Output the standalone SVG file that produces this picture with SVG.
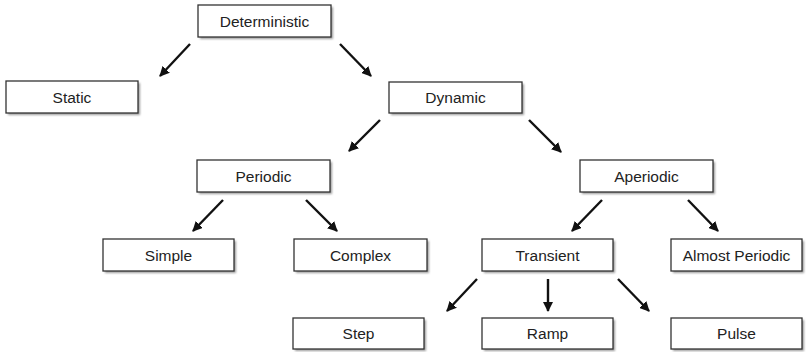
<svg xmlns="http://www.w3.org/2000/svg" width="810" height="352" viewBox="0 0 810 352">
  <defs>
    <marker id="head" viewBox="0 0 10 10" refX="9" refY="5" markerWidth="4.2" markerHeight="4.2" orient="auto" markerUnits="strokeWidth">
      <path d="M0,0 L10,5 L0,10 Z" fill="#111"/>
    </marker>
    <filter id="soft" x="-10%" y="-10%" width="130%" height="140%">
      <feGaussianBlur stdDeviation="0.8"/>
    </filter>
  </defs>
  <style>
    .shadow { fill: #9a9a9a; filter: url(#soft); }
    .box { fill: #ffffff; stroke: #333; stroke-width: 1.3; }
    .label { font-family: "Liberation Sans", Arial, sans-serif; font-size: 15.5px; fill: #222; text-anchor: middle; dominant-baseline: central; }
    .edge { stroke: #111; stroke-width: 2.4; fill: none; marker-end: url(#head); }
  </style>
  <rect width="810" height="352" fill="#ffffff"/>

  <g id="connectors">
    <line class="edge" x1="190" y1="44" x2="160" y2="76"/>
    <line class="edge" x1="340" y1="44" x2="371" y2="76"/>
    <line class="edge" x1="380" y1="120" x2="349" y2="151"/>
    <line class="edge" x1="529" y1="120" x2="561" y2="152"/>
    <line class="edge" x1="223" y1="200" x2="193" y2="231"/>
    <line class="edge" x1="306" y1="200" x2="337" y2="231"/>
    <line class="edge" x1="602" y1="200" x2="572" y2="231"/>
    <line class="edge" x1="688" y1="200" x2="718" y2="231"/>
    <line class="edge" x1="477" y1="279" x2="447" y2="311"/>
    <line class="edge" x1="548" y1="279" x2="548" y2="311"/>
    <line class="edge" x1="618" y1="279" x2="649" y2="311"/>
  </g>

  <g id="deterministic">
    <rect class="shadow" x="200" y="7" width="133" height="32"/>
    <rect class="box" x="198" y="5" width="133" height="32"/>
    <text class="label" x="264.5" y="21">Deterministic</text>
  </g>
  <g id="static">
    <rect class="shadow" x="8" y="83" width="132" height="32"/>
    <rect class="box" x="6" y="81" width="132" height="32"/>
    <text class="label" x="72" y="97">Static</text>
  </g>
  <g id="dynamic">
    <rect class="shadow" x="391" y="84" width="133" height="31"/>
    <rect class="box" x="389" y="82" width="133" height="31"/>
    <text class="label" x="455.5" y="97.5">Dynamic</text>
  </g>
  <g id="periodic">
    <rect class="shadow" x="199" y="162" width="133" height="32"/>
    <rect class="box" x="197" y="160" width="133" height="32"/>
    <text class="label" x="263.5" y="176">Periodic</text>
  </g>
  <g id="aperiodic">
    <rect class="shadow" x="582" y="162" width="133" height="32"/>
    <rect class="box" x="580" y="160" width="133" height="32"/>
    <text class="label" x="646.5" y="176">Aperiodic</text>
  </g>
  <g id="simple">
    <rect class="shadow" x="105" y="241" width="131" height="32"/>
    <rect class="box" x="103" y="239" width="131" height="32"/>
    <text class="label" x="168.5" y="255">Simple</text>
  </g>
  <g id="complex">
    <rect class="shadow" x="296" y="241" width="133" height="32"/>
    <rect class="box" x="294" y="239" width="133" height="32"/>
    <text class="label" x="360.5" y="255">Complex</text>
  </g>
  <g id="transient">
    <rect class="shadow" x="484" y="241" width="131" height="32"/>
    <rect class="box" x="482" y="239" width="131" height="32"/>
    <text class="label" x="547.5" y="255">Transient</text>
  </g>
  <g id="almost-periodic">
    <rect class="shadow" x="673" y="241" width="131" height="32"/>
    <rect class="box" x="671" y="239" width="131" height="32"/>
    <text class="label" x="736.5" y="255">Almost Periodic</text>
  </g>
  <g id="step">
    <rect class="shadow" x="295" y="320" width="131" height="31"/>
    <rect class="box" x="293" y="318" width="131" height="31"/>
    <text class="label" x="358.5" y="333.5">Step</text>
  </g>
  <g id="ramp">
    <rect class="shadow" x="484" y="320" width="131" height="31"/>
    <rect class="box" x="482" y="318" width="131" height="31"/>
    <text class="label" x="547.5" y="333.5">Ramp</text>
  </g>
  <g id="pulse">
    <rect class="shadow" x="673" y="320" width="131" height="31"/>
    <rect class="box" x="671" y="318" width="131" height="31"/>
    <text class="label" x="736.5" y="333.5">Pulse</text>
  </g>
</svg>
